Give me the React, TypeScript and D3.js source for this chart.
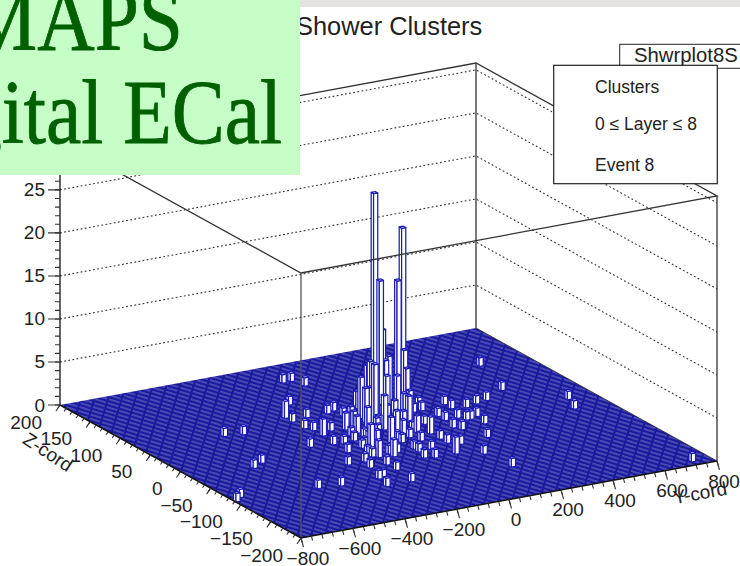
import React from 'react';
import * as d3 from 'd3';

// histogram content
const barY = [-41, -7, 11, -212, -140, -211, -490, -421, -562, -517, -787, -753, -482, -403, -160, 620, 557, 702, 670, 732, 191, 175, 266, 332, 458, 407, 366, 313, 314, 283, 351, 315, 298, 235, 237, 222, 224, 93, 159, 125, 121, 1, -20, 46, 114, 144, 211, 233, -192, -275, -255, -272, -176, -226, -98, -150, -164, -15, -4, 81, 58, 41, -77, -36, -43, -27, 37, -218, -207, -208, -290, -154, -210, -186, -210, -274, -224, -135, -137, -172, 8, 70, 7, -16, 78, 102, 165, 135, 136, 49, 214, 155, 116, 168, 114, 179, 42, 62, -83, -60, -110, 18, 27, -19, -85, -3, -14, -64, -59, -8, 56, 102, 55, 5, -41, 119, 65, 84, -83, -127, -110, -43, -98, -136, -66, -160, -163, 156, -57, 11, -77, -76];
const barZ = [157, 157, 142, 79, 104, 67, 62, 58, -24, -13, -91, -83, -93, -100, 71, 114, 50, 0, -22, -190, -128, -85, -50, -18, 34, 29, 27, 41, 30, 7, 0, -3, -2, 6, 16, -16, -24, -73, -53, -48, -35, -75, -72, -54, -19, 7, 39, 49, -120, -120, -100, -98, -87, -70, -53, -51, -48, -45, -26, -4, -30, -18, 71, 73, 59, 52, 68, 44, 38, 21, 0, 30, -2, -5, -27, -53, -55, -2, -17, -38, 26, 65, 35, 32, 34, 30, 42, 56, 81, 39, 69, 50, 61, 45, 26, 37, 27, 24, 3, 0, -47, 0, -13, 6, -6, -18, -55, 36, 26, 40, 55, 48, 13, 8, 3, 16, 6, -9, 15, 9, 25, -21, -28, -31, -48, -22, -70, 28, 11, -11, -16, 26];
const barValue = [1, 1, 1, 2, 1, 1, 1, 1, 1, 1, 1, 1, 1, 1, 1, 1, 1, 1, 1, 1, 1, 1, 1, 1, 1, 1, 1, 1, 1, 1, 1, 1, 1, 1, 1, 1, 1, 2, 1, 1, 1, 1, 1, 1, 2, 1, 1, 1, 1, 1, 1, 1, 1, 1, 2, 2, 1, 1, 1, 1, 1, 1, 1, 1, 1, 1, 2, 1, 1, 2, 1, 1, 1, 1, 1, 1, 1, 1, 1, 1, 7, 5, 4, 4, 5, 5, 5, 6, 24, 16, 20, 15, 9, 7, 3, 1, 2, 2, 1, 1, 1, 2, 2, 2, 1, 1, 1, 2, 1, 5, 6, 6, 3, 4, 2, 3, 2, 2, 2, 1, 2, 3, 2, 3, 1, 1, 1, 3, 3, 3, 2, 2];

const yTicks = [-800, -600, -400, -200, 0, 200, 400, 600, 800];
const zTicks = [200, 150, 100, 50, 0, -50, -100, -150, -200];
const heightTicks = [0, 5, 10, 15, 20, 25, 30];
const legendLines = ['Clusters', '0 \u2264 Layer \u2264 8', 'Event 8'];

const sans = '"Liberation Sans", Arial, sans-serif';
const binY = 16;
const binZ = 4;
const zMax = 30.8;

// oblique projection of the box, floor left corner is at (60,405)
const xOfY = d3.scaleLinear().domain([-800, 800]).range([0, 416]);
const xOfZ = d3.scaleLinear().domain([200, -200]).range([0, 241]);
const yOfY = d3.scaleLinear().domain([-800, 800]).range([0, -77]);
const yOfZ = d3.scaleLinear().domain([200, -200]).range([0, 133]);
const yOfH = d3.scaleLinear().domain([0, zMax]).range([0, -265]);

const project = (y: number, z: number, h = 0): [number, number] => [
  60 + xOfY(y) + xOfZ(z),
  405 + yOfY(y) + yOfZ(z) + yOfH(h),
];

const line = d3.line();

function ticksPath(values: number[], at: (v: number) => [number, number], dx: number, dy: number) {
  const p = d3.path();
  values.forEach((v) => {
    const [x, y] = at(v);
    p.moveTo(x, y);
    p.lineTo(x + dx, y + dy);
  });
  return p.toString();
}

function Bars() {
  const bars = barY.map((y, i) => {
    const y0 = -800 + Math.floor((y + 800) / binY) * binY;
    const z0 = -200 + Math.floor((barZ[i] + 200) / binZ) * binZ;
    return { y0, y1: y0 + binY, z0, z1: z0 + binZ, h: barValue[i] };
  });
  // back to front
  const sorted = d3.sort(bars, (a, b) => d3.descending(a.y0 + a.z0 * 4, b.y0 + b.z0 * 4));
  return (
    <g fill="#fff" stroke="#1c1cb8" strokeWidth={1.25} strokeLinejoin="round">
      {sorted.map((b, i) => (
        <g key={i}>
          <path d={line([project(b.y0, b.z1), project(b.y0, b.z0), project(b.y0, b.z0, b.h), project(b.y0, b.z1, b.h)]) + 'Z'} />
          <path d={line([project(b.y0, b.z0), project(b.y1, b.z0), project(b.y1, b.z0, b.h), project(b.y0, b.z0, b.h)]) + 'Z'} />
          <path d={line([project(b.y0, b.z0, b.h), project(b.y1, b.z0, b.h), project(b.y1, b.z1, b.h), project(b.y0, b.z1, b.h)]) + 'Z'} />
        </g>
      ))}
    </g>
  );
}

export default function App() {
  const yMinor = d3.range(-800, 801, 40);
  const zMinor = d3.range(-200, 201, 10);
  const hMinor = d3.range(0, 31, 1);
  const atLeftWall = (h: number) => project(-800, 200, h);

  const gridHeights = heightTicks.slice(1);
  const corners = {
    left: project(-800, 200),
    front: project(-800, -200),
    right: project(800, -200),
    back: project(800, 200),
    leftTop: project(-800, 200, zMax),
    frontTop: project(-800, -200, zMax),
    rightTop: project(800, -200, zMax),
    backTop: project(800, 200, zMax),
  };

  return (
    <svg width={740} height={566} style={{ position: 'absolute', left: 0, top: 0, background: '#fff' }}>
      <defs>
        {/* the empty bins of the lego plot blur into shallow stripes */}
        <pattern id="emptyBins" patternUnits="userSpaceOnUse" width={13} height={4} patternTransform="rotate(17)">
          <rect width={13} height={4} fill="#1a1a9c" />
          <rect x={0} y={1.4} width={11} height={1.1} fill="#6e6ecc" />
        </pattern>
      </defs>

      <rect x={300} y={0} width={440} height={7} fill="#e4e2de" />

      {/* dotted grid on the two back walls */}
      <g fill="none" stroke="#333" strokeWidth={1.1} strokeDasharray="1.8 2.4">
        {gridHeights.map((h) => (
          <path key={h} d={line([project(-800, 200, h), project(800, 200, h), project(800, -200, h)]) ?? ''} />
        ))}
      </g>

      {/* floor */}
      <path d={(line([corners.left, corners.front, corners.right, corners.back]) ?? '') + 'Z'} fill="url(#emptyBins)" />

      <Bars />

      {/* box frame */}
      <g fill="none" stroke="#333" strokeWidth={1.3}>
        <path d={(line([corners.leftTop, corners.backTop, corners.rightTop, corners.frontTop]) ?? '') + 'Z'} />
        <path d={line([corners.back, corners.backTop]) ?? ''} />
        <path d={line([corners.right, corners.rightTop]) ?? ''} />
        <path d={line([corners.front, corners.frontTop]) ?? ''} stroke="#555" />
        <path d={line([corners.left, corners.leftTop]) ?? ''} stroke="#111" />
        <path d={line([corners.left, corners.front, corners.right]) ?? ''} stroke="#111" strokeWidth={1.5} />
        <path d={line([corners.right, corners.back]) ?? ''} stroke="#222" strokeWidth={0.8} />
      </g>

      {/* axis ticks */}
      <g fill="none" stroke="#333" strokeWidth={1.1}>
        <path d={ticksPath(yTicks, (v) => project(v, -200), 2.5, 9)} />
        <path d={ticksPath(yMinor, (v) => project(v, -200), 1.2, 4.5)} />
        <path d={ticksPath(zTicks, (v) => project(-800, v), -4, 6)} />
        <path d={ticksPath(zMinor, (v) => project(-800, v), -2, 3)} />
        <path d={ticksPath(heightTicks, atLeftWall, -12, 0)} />
        <path d={ticksPath(hMinor, atLeftWall, -5, 0)} />
      </g>

      {/* axis labels */}
      <g fontFamily={sans} fontSize={19} fill="#222" dominantBaseline="central">
        {heightTicks.map((h) => (
          <text key={h} x={project(-800, 200, h)[0] - 15} y={project(-800, 200, h)[1]} textAnchor="end">{h}</text>
        ))}
        {zTicks.map((v) => (
          <text key={v} x={project(-800, v)[0] - 18} y={project(-800, v)[1] + 17} textAnchor="end">
            {d3.format('')(v).replace('-', '\u2212')}
          </text>
        ))}
        {yTicks.map((v) => (
          <text key={v} x={project(v, -200)[0] + 7} y={project(v, -200)[1] + 20} textAnchor="middle">
            {d3.format('')(v).replace('-', '\u2212')}
          </text>
        ))}
        <text transform="translate(48,452) rotate(33)" textAnchor="middle">Z-cord</text>
        <text transform="translate(700,493) rotate(-10.5)" textAnchor="middle">Y-cord</text>
      </g>

      <text x={296} y={35} fontFamily={sans} fontSize={25.4} fill="#222">Shower Clusters</text>

      {/* stats tab and legend */}
      <rect x={619.7} y={44.3} width={130} height={24} fill="#fff" stroke="#222" strokeWidth={1} />
      <text x={634} y={62} fontFamily={sans} fontSize={20.3} fill="#222">Shwrplot8S</text>
      <rect x={553.7} y={65.3} width={163.6} height={118.4} fill="#fff" stroke="#222" strokeWidth={1.2} />
      <g fontFamily={sans} fontSize={17.5} fill="#222" dominantBaseline="central">
        {legendLines.map((t, i) => (
          <text key={t} x={595} y={[86.7, 124, 165][i]}>{t}</text>
        ))}
      </g>

      {/* slide banner over the plot */}
      <rect x={0} y={0} width={300} height={175} fill="#c6fdc6" />
      <g fontFamily='"Liberation Serif", serif' fontSize={90} fill="#006000" stroke="#006000" strokeWidth={0.8} textAnchor="end">
        <text transform="translate(183,50) scale(0.883,1)">MAPS</text>
        <text transform="translate(282,143) scale(0.883,1)">Digital ECal</text>
      </g>
    </svg>
  );
}
